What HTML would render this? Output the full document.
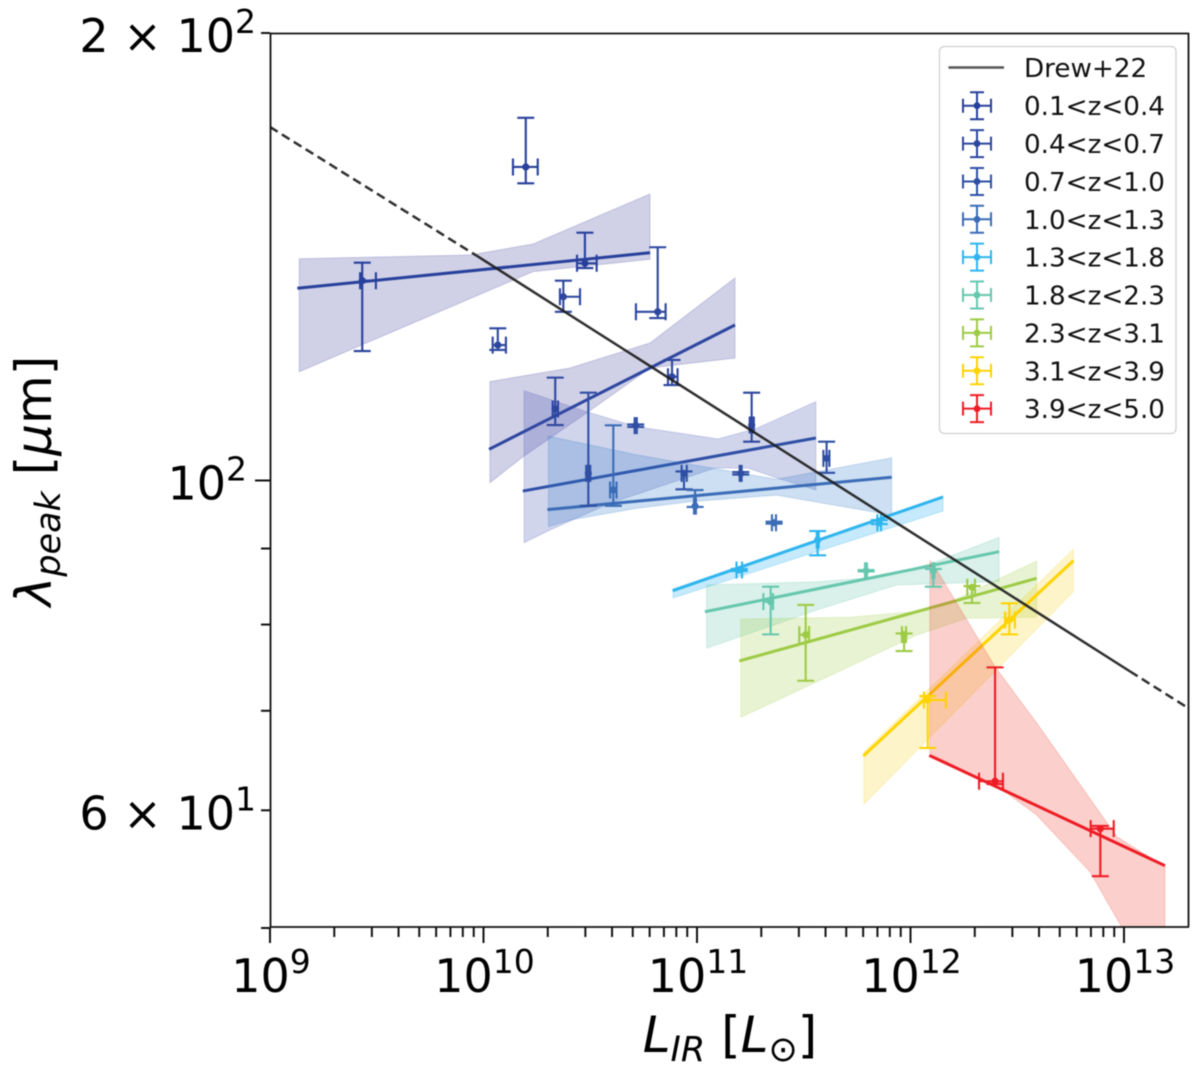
<!DOCTYPE html>
<html lang="en">
<head>
<meta charset="utf-8">
<title>Peak wavelength vs infrared luminosity</title>
<style>
html,body{margin:0;padding:0;background:#fff;width:1200px;height:1075px;overflow:hidden}
svg{display:block;font-family:"DejaVu Sans","Liberation Sans",sans-serif;fill:#000;filter:blur(0.4px)}
</style>
</head>
<body>
<svg id="chart" xmlns="http://www.w3.org/2000/svg" width="1200" height="1075" viewBox="0 0 1200 1075">
<defs><clipPath id="plot-clip"><rect x="270" y="33" width="918" height="894"/></clipPath></defs>
<rect x="270" y="33" width="918" height="894" fill="#fff"/>
<g id="marks" clip-path="url(#plot-clip)"></g>
<g id="ticks"></g>
<g fill="none" stroke="#111" stroke-width="1.8">
<path d="M270.5 33V927"/>
<path d="M1188.5 33V927"/>
<path d="M270 33.5H1189"/>
<path d="M270 927H1189"/>
</g>
<text x="730" y="1052" font-size="50" text-anchor="middle"><tspan font-style="italic">L</tspan><tspan font-style="italic" font-size="35" dy="9">IR</tspan><tspan dy="-9"> [</tspan><tspan font-style="italic">L</tspan><tspan font-size="35" dy="9">⊙</tspan><tspan dy="-9">]</tspan></text>
<text transform="translate(51 481) rotate(-90)" font-size="50" text-anchor="middle"><tspan font-style="italic">λ</tspan><tspan font-style="italic" font-size="35" dy="9">peak</tspan><tspan dy="-9"> [</tspan><tspan font-style="italic">μ</tspan><tspan>m]</tspan></text>
<g id="legend"></g>
</svg>
<script>
// Axis ticks and labels
const xMajorDecades = [9, 10, 11, 12, 13];
const yMajorTicks = [100];
const yMinorTicks = [200, 90, 80, 70, 60, 50];
const yLabelledMinor = [200, 60];
const yLabelledMantissa = ["2", "6"];
const yLabelledExponent = ["2", "1"];
const yMajorExponent = ["2"];

// Series
const seriesLabels = ["0.1<z<0.4","0.4<z<0.7","0.7<z<1.0","1.0<z<1.3","1.3<z<1.8","1.8<z<2.3","2.3<z<3.1","3.1<z<3.9","3.9<z<5.0"];
const seriesColors = ["#27409b","#2d469f","#2f4fa5","#3a6cb7","#2fb5ee","#66c7ae","#9dcb45","#ffd300","#ee1c25"];
const bandColors = ["#3c3a9c","#3c3a9c","#3f4fae","#2f78c8","#10a8ee","#5fc4a8","#9dcb45","#f8d320","#ee3a2a"];

// Data points: log10(L_IR) and log10(lambda_peak)
const pointSeries = [0,0,0, 1,1,1,1,1,1, 2,2,2,2,2, 3,3,3, 4,4,4, 5,5,5, 6,6,6, 7,7, 8,8];
const pointLogL = [9.432,10.198,10.475, 10.067,10.374,10.816,10.336,10.883,11.256, 10.491,10.713,10.939,11.205,11.607, 10.608,10.991,11.361, 11.198,11.565,11.854, 11.345,11.792,12.107, 11.509,11.970,12.288, 12.081,12.463, 12.396,12.889];
const pointLogLam = [2.1344,2.2109,2.1461, 2.0911,2.1236,2.1135,2.0481,2.0698,2.0373, 2.0048,2.0369,2.0048,2.0048,2.0149, 1.9936,1.9828,1.9716, 1.9398,1.9600,1.9716, 1.9185,1.9393,1.9393, 1.8963,1.8963,1.9282, 1.8523,1.9062, 1.7977,1.7658];
const errLogLLow = [9.422,10.138,10.438, 10.043,10.358,10.714,10.324,10.864,11.247, 10.481,10.708,10.928,11.200,11.592, 10.593,10.986,11.351, 11.185,11.561,11.845, 11.311,11.787,12.103, 11.479,11.960,12.266, 12.063,12.443, 12.321,12.844];
const errLogLHigh = [9.496,10.254,10.530, 10.105,10.452,10.853,10.349,10.909,11.266, 10.500,10.718,10.952,11.209,11.620, 10.623,10.995,11.370, 11.211,11.570,11.862, 11.356,11.796,12.112, 11.525,11.979,12.302, 12.166,12.489, 12.433,12.952];
const errLamLow = [2.0871,2.1999,2.1429, 2.0878,2.1135,2.1093,2.0373,2.0642,2.0261, 1.9830,2.0360,1.9941,2.0040,2.0052, 1.9830,1.9822,1.9709, 1.9391,1.9497,1.9707, 1.8965,1.9388,1.9286, 1.8653,1.8853,1.9176, 1.8201,1.8965, 1.7958,1.7338];
const errLamHigh = [2.1465,2.2440,2.1667, 2.1024,2.1344,2.1569,2.0692,2.0811,2.0591, 2.0591,2.0377,2.0061,2.0057,2.0261, 2.0371,1.9936,1.9723, 1.9405,1.9660,1.9734, 1.9286,1.9398,1.9405, 1.9163,1.8971,1.9290, 1.8550,1.9174, 1.8743,1.7676];

// Fit lines (start, end)
const fitLogL = [[9.128,10.780],[10.026,11.178],[10.184,11.557],[10.299,11.912],[10.886,12.152],[11.037,12.415],[11.198,12.591],[11.779,12.763],[12.088,13.192]];
const fitLogLam = [[2.1293,2.1532],[2.0210,2.1046],[1.9929,2.0286],[1.9804,2.0022],[1.9259,1.9889],[1.9117,1.9521],[1.8786,1.9342],[1.8147,1.9461],[1.8151,1.7409]];

// Confidence bands
const bandUpperLogL = [[9.137,9.937,10.233,10.780],[10.030,10.405,10.780,11.178],[10.190,10.483,10.718,11.100,11.280,11.557],[10.304,10.718,11.076,11.373,11.912],[10.888,12.152],[11.045,11.561,11.871,12.105,12.415],[11.205,11.717,12.107,12.591],[11.782,12.763],[12.091,12.123,12.396,12.591,12.966,13.192]];
const bandUpperLam = [[2.1492,2.1517,2.1591,2.1927],[2.0665,2.0757,2.0925,2.1362],[2.0604,2.0463,2.0362,2.0279,2.0351,2.0530],[2.0299,2.0172,2.0082,2.0008,2.0153],[1.9270,1.9896],[1.9297,1.9319,1.9353,1.9445,1.9618],[1.9068,1.9080,1.9129,1.9458],[1.8174,1.9537],[1.9461,1.9398,1.8747,1.8369,1.7604,1.7402]];
const bandLowerLogL = [[9.137,10.233,10.780],[10.030,10.185,10.483,10.780,11.178],[10.190,10.311,10.593,11.084,11.239,11.375,11.557],[10.304,10.405,10.718,10.967,11.373,11.912],[10.888,12.152],[11.045,11.561,11.935,12.415],[11.205,12.029,12.263,12.591],[11.782,12.763],[12.091,12.451,12.591,12.841,12.989,13.192]];
const bandLowerLam = [[2.0732,2.1405,2.1488],[1.9985,2.0160,2.0454,2.0757,2.0824],[1.9582,1.9667,1.9847,2.0084,2.0084,2.0017,1.9936],[1.9689,1.9734,1.9813,1.9857,1.9902,1.9768],[1.9210,1.9795],[1.8871,1.9129,1.9297,1.9319],[1.8407,1.8961,1.9073,1.9080],[1.7824,1.9252],[1.8167,1.7898,1.7750,1.7368,1.6996,1.6573]];

// Drew+22 relation
const drewSolidLogL = [9.968, 13.028];
const drewSolidLam = [2.1512, 1.8716];
const drewDashLeftLogL = [9, 9.968];
const drewDashLeftLam = [2.2378, 2.1512];
const drewDashRightLogL = [13.028, 13.3];
const drewDashRightLam = [1.8716, 1.847];

const xScale = function (logL) { return 270 + 213.5 * (logL - 9); };
const yScale = function (logLam) { return 480.5 - 1486.6 * (logLam - 2); };
const NS = "http://www.w3.org/2000/svg";
function svgEl(parent, tag, props) {
  const el = document.createElementNS(NS, tag);
  for (const k in props) el.setAttribute(k, props[k]);
  parent.appendChild(el);
  return el;
}
function supLabel(parent, x, y, anchor, base, exp) {
  const t = svgEl(parent, "text", { x: x, y: y, "text-anchor": anchor, "font-size": 46 });
  t.appendChild(document.createTextNode(base));
  const s = svgEl(t, "tspan", { dy: -19, "font-size": 33 });
  s.textContent = exp;
  return t;
}

const marks = document.getElementById("marks");
const ticks = document.getElementById("ticks");
const legend = document.getElementById("legend");

// bands and fit lines
seriesLabels.forEach(function (label, s) {
  const g = svgEl(marks, "g", {});
  
  
  const up = bandUpperLogL[s].map(function (v, i) { return xScale(v).toFixed(1) + "," + yScale(bandUpperLam[s][i]).toFixed(1); });
  const lo = bandLowerLogL[s].map(function (v, i) { return xScale(v).toFixed(1) + "," + yScale(bandLowerLam[s][i]).toFixed(1); }).reverse();
  const band = svgEl(g, "polygon", { points: up.concat(lo).join(" "), fill: bandColors[s], "fill-opacity": 0.24, stroke: bandColors[s], "stroke-opacity": 0.22, "stroke-width": 1 });
  
  
  const fit = svgEl(g, "line", { x1: xScale(fitLogL[s][0]), y1: yScale(fitLogLam[s][0]), x2: xScale(fitLogL[s][1]), y2: yScale(fitLogLam[s][1]), stroke: seriesColors[s], "stroke-width": 3 });
  
  
});

// error-bar points
pointLogL.forEach(function (v, i) {
  const c = seriesColors[pointSeries[i]];
  const px = xScale(v), py = yScale(pointLogLam[i]);
  const xl = xScale(errLogLLow[i]), xh = xScale(errLogLHigh[i]);
  const yl = yScale(errLamLow[i]), yh = yScale(errLamHigh[i]);
  const cap = 8.5;
  const d = "M" + xl + " " + py + "H" + xh +
    "M" + px + " " + yl + "V" + yh +
    "M" + xl + " " + (py - cap) + "V" + (py + cap) +
    "M" + xh + " " + (py - cap) + "V" + (py + cap) +
    "M" + (px - cap) + " " + yl + "H" + (px + cap) +
    "M" + (px - cap) + " " + yh + "H" + (px + cap);
  const bar = svgEl(marks, "path", { d: d, fill: "none", stroke: c, "stroke-width": 2.1 });
  
  
  const dot = svgEl(marks, "circle", { cx: px, cy: py, r: 3.6, fill: c });
  
  
});

// Drew+22 line
function drewSeg(xs, ys, dashed) {
  const seg = svgEl(marks, "line", { x1: xScale(xs[0]), y1: yScale(ys[0]), x2: xScale(xs[1]), y2: yScale(ys[1]), stroke: "#1c1c1c", "stroke-opacity": 0.92, "stroke-width": 2.5 });
  if (dashed) seg.setAttribute("stroke-dasharray", "9 5");
  
  
}
drewSeg(drewDashLeftLogL, drewDashLeftLam, true);
drewSeg(drewSolidLogL, drewSolidLam, false);
drewSeg(drewDashRightLogL, drewDashRightLam, true);

// ticks
function tickLine(x1, y1, x2, y2) {
  const t = svgEl(ticks, "line", { x1: x1, y1: y1, x2: x2, y2: y2, stroke: "#111", "stroke-width": 2 });
  
  
}
xMajorDecades.forEach(function (dec) {
  const px = xScale(dec);
  tickLine(px, 927, px, 943);
  const lab = supLabel(ticks, px + 1, 992, "middle", "10", String(dec));
  
  
  for (let m = 2; m <= 9; m++) {
    const mx = xScale(dec + Math.log10(m));
    if (mx < 1188) tickLine(mx, 927, mx, 937);
  }
});
yMajorTicks.forEach(function (v, i) {
  const py = yScale(Math.log10(v));
  tickLine(255, py, 270, py);
  const lab = supLabel(ticks, 247, py + 19, "end", "10", yMajorExponent[i]);
  
  
});
yMinorTicks.forEach(function (v) {
  const py = yScale(Math.log10(v));
  tickLine(261, py, 270, py);
});
yLabelledMinor.forEach(function (v, i) {
  const py = yScale(Math.log10(v));
  const lab = supLabel(ticks, 256, py + 19, "end", yLabelledMantissa[i] + " × 10", yLabelledExponent[i]);
  
  
});

// legend
const legendBox = svgEl(legend, "rect", { x: 939.5, y: 46.5, width: 236.5, height: 387, rx: 5, fill: "#fff", "fill-opacity": 0.85, stroke: "#d0d0d0", "stroke-width": 1.3 });


const drewHandle = svgEl(legend, "line", { x1: 948.5, y1: 67.5, x2: 1004, y2: 67.5, stroke: "#555", "stroke-width": 2.4 });


const drewText = svgEl(legend, "text", { x: 1024, y: 77, "font-size": 26.2, fill: "#111" });
drewText.textContent = "Drew+22";


seriesLabels.forEach(function (label, s) {
  const cy = 105.7 + 37.87 * s;
  const c = seriesColors[s];
  const d = "M963 " + cy + "H991M977 " + (cy - 13.5) + "V" + (cy + 13.5) +
    "M963 " + (cy - 7) + "V" + (cy + 7) + "M991 " + (cy - 7) + "V" + (cy + 7) +
    "M970 " + (cy - 13.5) + "H984M970 " + (cy + 13.5) + "H984";
  const h = svgEl(legend, "path", { d: d, fill: "none", stroke: c, "stroke-width": 2 });
  
  
  const dt = svgEl(legend, "circle", { cx: 977, cy: cy, r: 3.4, fill: c });
  
  
  const tx = svgEl(legend, "text", { x: 1024, y: cy + 9.5, "font-size": 26.2, fill: "#111" });
  tx.textContent = label;
  
  
});
</script>
</body>
</html>
